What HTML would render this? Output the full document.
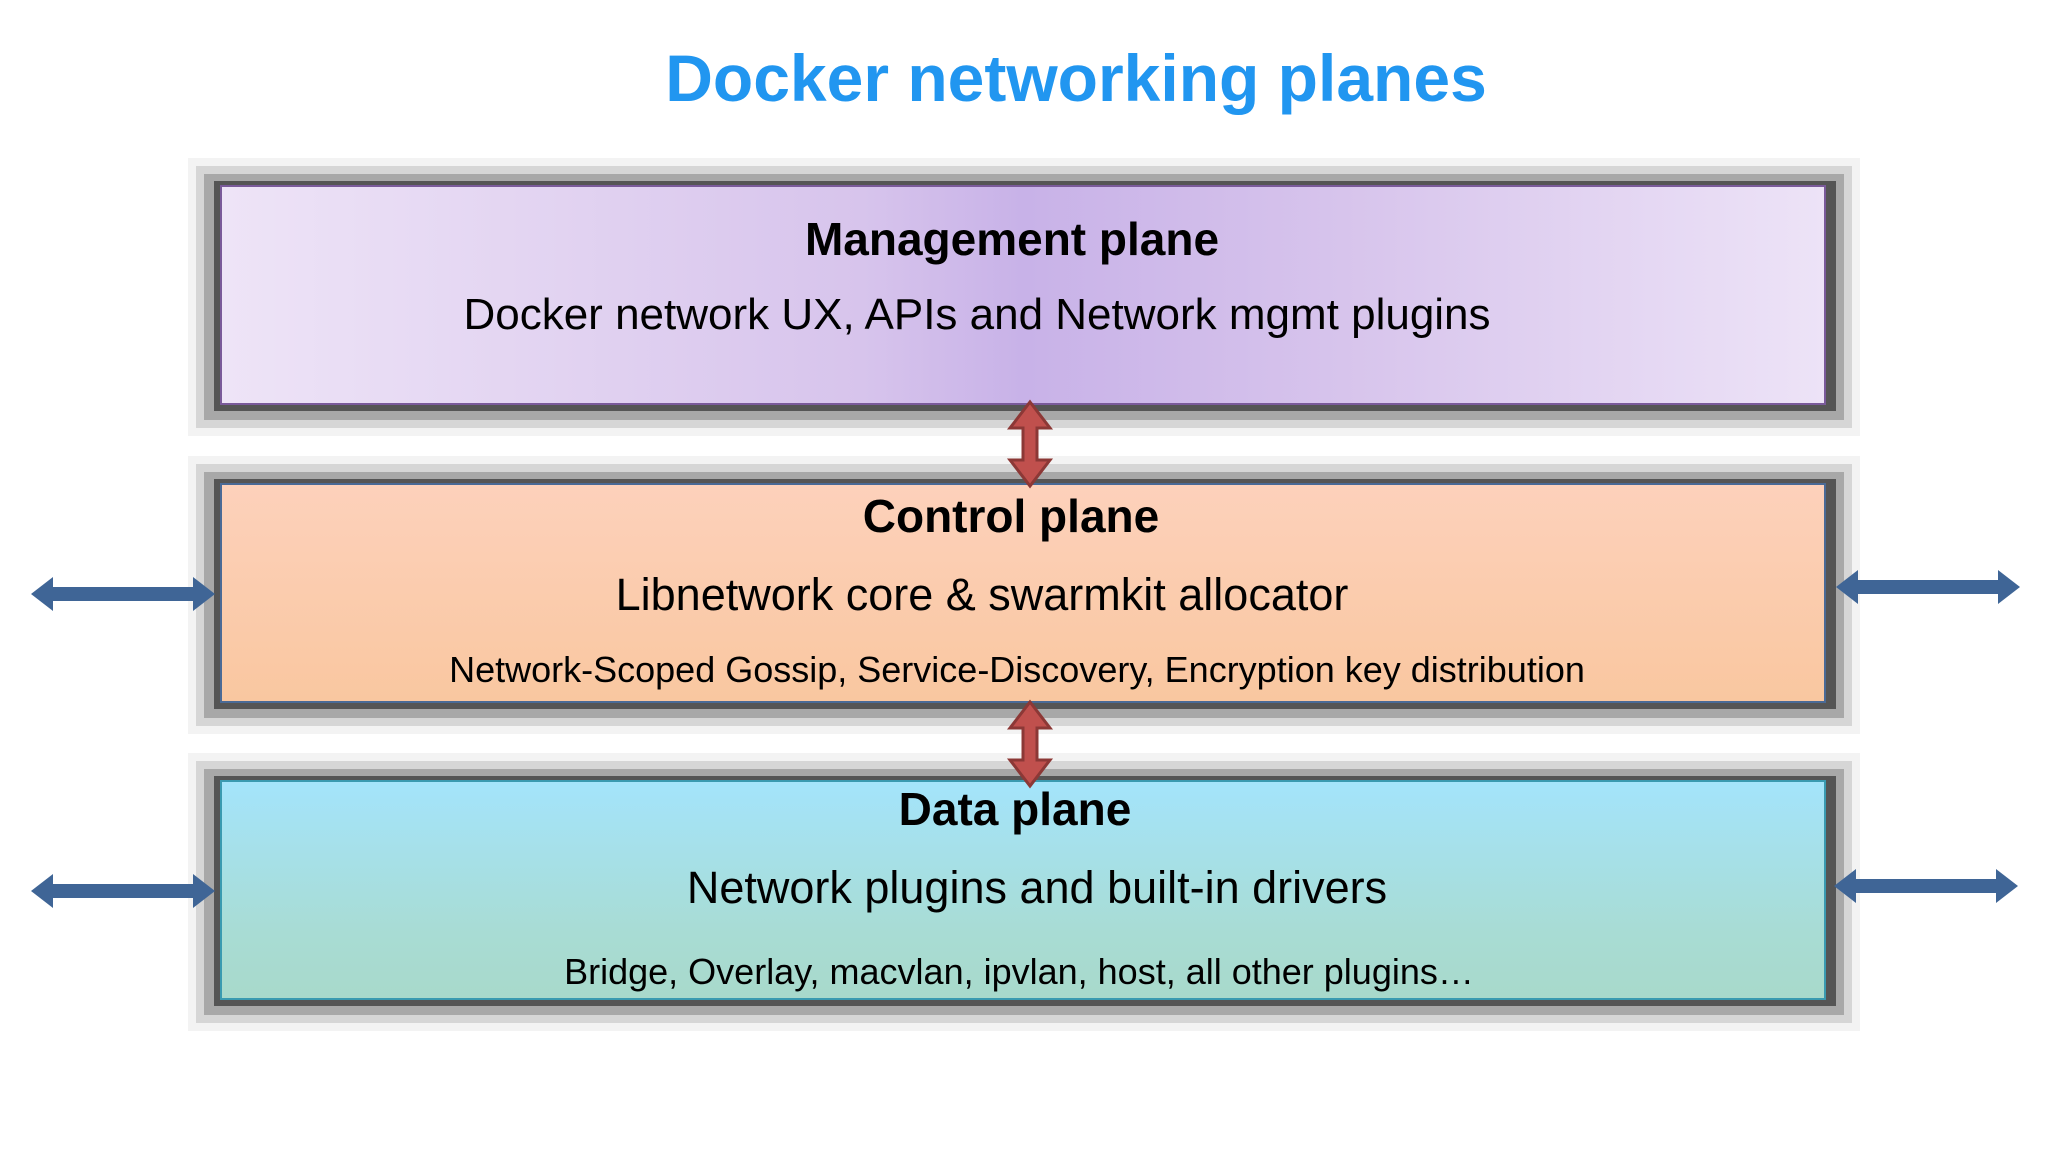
<!DOCTYPE html>
<html><head><meta charset="utf-8"><style>
body{margin:0;width:2048px;height:1152px;background:#fff;position:relative;overflow:hidden;font-family:"Liberation Sans",sans-serif}
.t{position:absolute;left:0;width:2048px;text-align:center;color:#000;white-space:nowrap}
.frame{position:absolute;left:204px;width:1640px;background:#a8a8a8;box-shadow:0 0 0 8px #d6d6d6,0 0 0 16px #f3f3f3}
.frame2{position:absolute;left:214px;width:1622px;background:#555}
.box{position:absolute;left:220px;width:1606px;box-sizing:border-box;border:2px solid #4a6a96}
</style></head><body>
<div class="t" style="top:40px;left:52px;font-size:66px;font-weight:bold;color:#2196f0">Docker networking planes</div>

<div class="frame" style="top:174px;height:246px"></div>
<div class="frame2" style="top:181px;height:230px"></div>
<div class="box" style="top:185px;height:220px;border-color:#7a5a9a;background:linear-gradient(90deg,#eee4f7,#d7c4ec 40%,#c8b2e8 50%,#d7c4ec 70%,#ede3f7)"></div>

<div class="frame" style="top:472px;height:246px"></div>
<div class="frame2" style="top:479px;height:230px"></div>
<div class="box" style="top:483px;height:220px;background:linear-gradient(#fdd1bb,#f9c7a0)"></div>

<div class="frame" style="top:769px;height:246px"></div>
<div class="frame2" style="top:776px;height:230px"></div>
<div class="box" style="top:780px;height:220px;border-color:#3a9ab0;background:linear-gradient(#a4e4fb,#a8dcd4 70%,#a8d9cb)"></div>

<div class="t" style="top:212px;left:-12px;font-size:46px;font-weight:bold">Management plane</div>
<div class="t" style="top:290px;left:-47px;font-size:44px">Docker network UX, APIs and Network mgmt plugins</div>
<div class="t" style="top:489px;left:-13px;font-size:46px;font-weight:bold">Control plane</div>
<div class="t" style="top:569px;left:-42px;font-size:45px">Libnetwork core &amp; swarmkit allocator</div>
<div class="t" style="top:649px;left:-7px;font-size:36px">Network-Scoped Gossip, Service-Discovery, Encryption key distribution</div>
<div class="t" style="top:782px;left:-9px;font-size:46px;font-weight:bold">Data plane</div>
<div class="t" style="top:862px;left:13px;font-size:45px">Network plugins and built-in drivers</div>
<div class="t" style="top:951px;left:-5px;font-size:36px">Bridge, Overlay, macvlan, ipvlan, host, all other plugins…</div>

<svg width="2048" height="1152" style="position:absolute;left:0;top:0">
<defs>
<g id="va"><polygon points="0,-42 20,-16 7,-16 7,16 20,16 0,42 -20,16 -7,16 -7,-16 -20,-16" fill="#c0504d" stroke="#8c3836" stroke-width="3"/></g>
<g id="ha"><polygon points="-92,0 -70,-17 -70,-7 70,-7 70,-17 92,0 70,17 70,7 -70,7 -70,17" fill="#3f6596"/></g>
</defs>
<use href="#va" x="1030" y="444"/>
<use href="#va" x="1030" y="744"/>
<use href="#ha" x="123" y="594"/>
<use href="#ha" x="1928" y="587"/>
<use href="#ha" x="123" y="891"/>
<use href="#ha" x="1926" y="886"/>
</svg>
</body></html>
